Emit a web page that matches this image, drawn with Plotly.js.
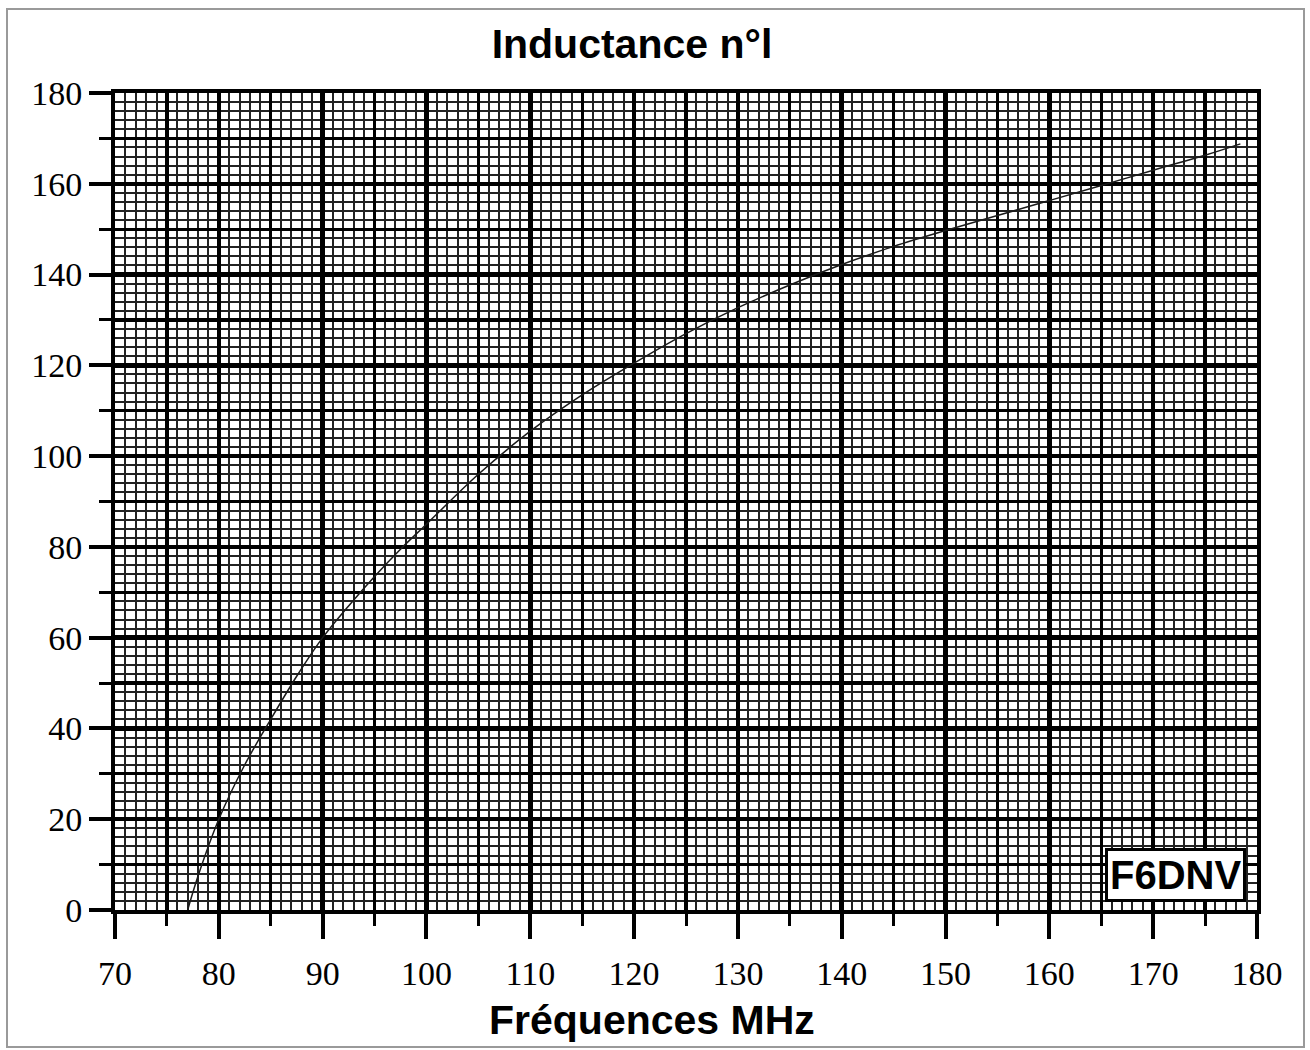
<!DOCTYPE html>
<html>
<head>
<meta charset="utf-8">
<script src="https://cdn.plot.ly/plotly-3.0.1.min.js"></script>
<style>
  html, body { margin: 0; padding: 0; background: #fff; }
  #frame { position: absolute; left: 6px; top: 8px; width: 1295px; height: 1036px; border: 2px solid #9a9a9a; }
  #chart { position: absolute; left: 0; top: 0; width: 1310px; height: 1050px; }
</style>
</head>
<body>
<div id="frame"></div>
<div id="chart"></div>
<script>
// Frequency (MHz) and inductance values
const freq = [77, 78, 80, 82.5, 85, 87.5, 90, 92.5, 95, 97.5, 100, 105, 110, 115, 120, 125, 130, 135, 140, 145, 150, 155, 160, 165, 170, 175, 178.4];
const inductance = [0, 7.5, 20, 32, 42, 51.5, 60, 67, 73.5, 79.5, 85, 96, 105.5, 113.5, 120.5, 127, 132.7, 137.7, 142.2, 146.2, 149.7, 153, 156.3, 159.6, 163, 166.3, 168.8];

const xRange = [70, 180];
const yRange = [0, 180];
const titleText = 'Inductance n°l';
const xTitleText = 'Fréquences MHz';
const stampText = 'F6DNV';

const tickFont = { family: 'Liberation Serif, Times New Roman, serif', size: 34, color: '#000' };
const boldFont = (s) => ({ family: 'Liberation Sans, Arial, sans-serif', size: s, color: '#000', weight: 'bold' });

const traces = [
  {
    x: freq, y: inductance, type: 'scatter', mode: 'lines',
    line: { color: '#1a1a1a', width: 1.5, shape: 'spline', smoothing: 1 },
    xaxis: 'x2', yaxis: 'y2', hoverinfo: 'skip', showlegend: false
  },
  {
    x: freq, y: inductance, type: 'scatter', mode: 'lines',
    line: { color: 'rgba(0,0,0,0)', width: 0 },
    xaxis: 'x', yaxis: 'y', hoverinfo: 'skip', showlegend: false
  }
];

const layout = {
  width: 1310, height: 1050,
  paper_bgcolor: 'rgba(0,0,0,0)', plot_bgcolor: '#fff',
  margin: { l: 115, r: 53, t: 93, b: 140 },
  showlegend: false,
  title: {
    text: '<b>' + titleText + '</b>',
    font: boldFont(41),
    xref: 'paper', x: 0.4527, xanchor: 'center',
    yref: 'container', y: 1 - 44 / 1050, yanchor: 'middle'
  },
  // fine grid
  xaxis: {
    range: xRange, dtick: 10, tick0: 0, showgrid: false, zeroline: false,
    showticklabels: false, ticks: '', showline: false, fixedrange: true,
    minor: { dtick: 1, tick0: 0, showgrid: true, gridcolor: '#222', gridwidth: 2, ticks: '' }
  },
  yaxis: {
    range: yRange, dtick: 20, tick0: 0, showgrid: false, zeroline: false,
    showticklabels: false, ticks: '', showline: false, fixedrange: true,
    minor: { dtick: 2, tick0: 0, showgrid: true, gridcolor: '#222', gridwidth: 2, ticks: '' }
  },
  // heavy grid, ticks and labels
  xaxis2: {
    overlaying: 'x', anchor: 'y2', side: 'bottom',
    range: xRange, dtick: 10, tick0: 0, zeroline: false, fixedrange: true,
    showgrid: true, gridcolor: '#000', gridwidth: 4.5,
    ticks: 'outside', ticklen: 25, tickwidth: 4, tickcolor: '#000',
    showline: true, linecolor: '#000', linewidth: 4, mirror: true,
    tickfont: tickFont, ticklabelstandoff: 5,
    minor: { dtick: 5, tick0: 0, showgrid: true, gridcolor: '#000', gridwidth: 3.3,
             ticks: 'outside', ticklen: 12, tickwidth: 3, tickcolor: '#000' }
  },
  yaxis2: {
    overlaying: 'y', anchor: 'x2', side: 'left',
    range: yRange, dtick: 20, tick0: 0, zeroline: false, fixedrange: true,
    showgrid: true, gridcolor: '#000', gridwidth: 4.5,
    ticks: 'outside', ticklen: 22, tickwidth: 4, tickcolor: '#000',
    showline: true, linecolor: '#000', linewidth: 4, mirror: true,
    tickfont: tickFont,
    minor: { dtick: 10, tick0: 0, showgrid: true, gridcolor: '#000', gridwidth: 3.3,
             ticks: 'outside', ticklen: 12, tickwidth: 3, tickcolor: '#000' }
  },
  annotations: [
    {
      text: '<b>' + xTitleText + '</b>', font: boldFont(41), showarrow: false,
      xref: 'paper', yref: 'paper', x: 0.470, y: -110 / 817, xanchor: 'center', yanchor: 'middle'
    },
    {
      text: '<b>' + stampText + '</b>', font: boldFont(40), showarrow: false,
      xref: 'paper', yref: 'paper', x: 0.929, y: 35 / 817, xanchor: 'center', yanchor: 'middle',
      bgcolor: '#fff', bordercolor: '#000', borderwidth: 3, borderpad: 2
    }
  ]
};

Plotly.newPlot('chart', traces, layout, { displayModeBar: false, staticPlot: true });
</script>
</body>
</html>
